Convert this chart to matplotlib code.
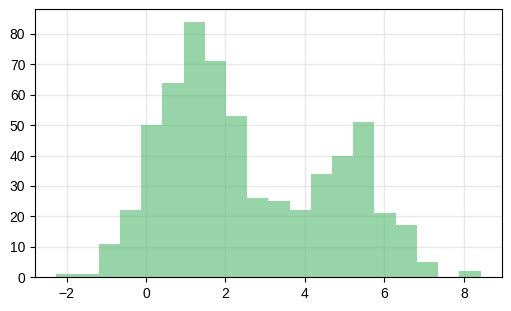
import numpy as np
import matplotlib
matplotlib.use("Agg")
import matplotlib.pyplot as plt

plt.rcParams["font.family"] = ["Liberation Sans", "DejaVu Sans"]

# histogram bins (20 equal bins) and counts
BIN_START = -2.26
BIN_END   = 8.42
COUNTS = [1, 1, 11, 22, 50, 64, 84, 71, 53, 26,
          25, 22, 34, 40, 51, 21, 17, 5, 0, 2]

edges = np.linspace(BIN_START, BIN_END, len(COUNTS) + 1)

fig = plt.figure(figsize=(5.11, 3.11), dpi=100)
ax = fig.add_axes([0.0685, 0.109, 0.9135, 0.862])

ax.hist(edges[:-1], bins=edges, weights=COUNTS,
        color="#4cb86a", alpha=0.58, zorder=2)

ax.set_xticks([-2, 0, 2, 4, 6, 8])
ax.set_yticks(range(0, 90, 10))
ax.tick_params(labelsize=10)
ax.grid(True, color="#d9d9d9", linewidth=1, alpha=0.6, zorder=0)
ax.set_axisbelow(True)

fig.savefig("out.png", dpi=100)
